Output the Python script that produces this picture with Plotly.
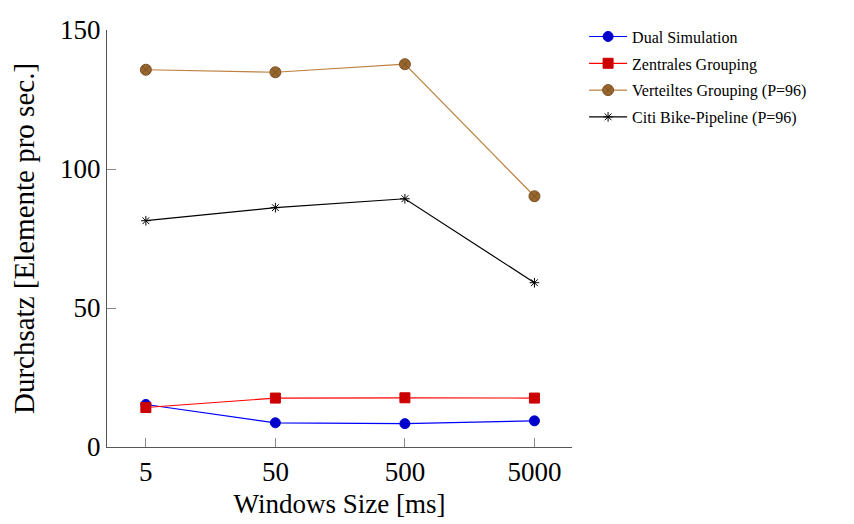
import plotly.graph_objects as go

window_sizes = ['5', '50', '500', '5000']
x_pos = [0, 1, 2, 3]

dual_sim = [15.3, 8.7, 8.4, 9.4]
zentral = [14.2, 17.6, 17.7, 17.6]
verteilt = [135.7, 134.8, 137.7, 90.2]
citi_bike = [81.4, 86.1, 89.3, 59.1]

series = [
    ('Dual Simulation', dual_sim, '#0000ff', '#0000cc', 'circle', 10),
    ('Zentrales Grouping', zentral, '#ff0000', '#cc0000', 'square', 10),
    ('Verteiltes Grouping (P=96)', verteilt, '#bf8040', '#99662e', 'circle-x', 11),
    ('Citi Bike-Pipeline (P=96)', citi_bike, '#000000', '#000000', 'asterisk-open', 8),
]

fig = go.Figure()
for i, (name, vals, lc, mc, sym, sz) in enumerate(series):
    fig.add_trace(go.Scatter(
        x=x_pos, y=vals, name=name, mode='lines+markers', legendgroup=str(i),
        line=dict(color=lc, width=1.2),
        marker=dict(symbol=sym, size=sz, color=mc,
                    line=dict(color=mc if sym != 'circle-x' else '#7a5226', width=1)),
    ))

font_family = 'Liberation Serif, DejaVu Serif, serif'

# page body adds ~8px offset, margins compensate
fig.update_layout(
    width=854, height=524,
    margin=dict(l=99, r=290, t=12, b=85),
    paper_bgcolor='white', plot_bgcolor='white',
    font=dict(family=font_family, color='black'),
    showlegend=True,
    legend=dict(x=1.026, y=1.025, xanchor='left', yanchor='top',
                font=dict(size=16, family=font_family),
                itemwidth=38,
                bgcolor='rgba(0,0,0,0)', tracegroupgap=3),
    xaxis=dict(
        range=[-0.3, 3.29], tickvals=x_pos, ticktext=window_sizes,
        showgrid=False, zeroline=False, showline=True, linecolor='#555', linewidth=1.2,
        ticks='inside', ticklen=9, tickcolor='#888', automargin=False,
        tickfont=dict(size=27),
        title=dict(text='Windows Size [ms]', font=dict(size=27), standoff=8),
    ),
    yaxis=dict(
        range=[0, 150], tickvals=[0, 50, 100, 150],
        showgrid=False, zeroline=False, showline=True, linecolor='#555', linewidth=1.2,
        ticks='inside', ticklen=9, tickcolor='#888', automargin=False,
        tickfont=dict(size=27),
        title=dict(text='Durchsatz [Elemente pro sec.]', font=dict(size=29), standoff=16),
    ),
)

fig.write_html('out.html')
